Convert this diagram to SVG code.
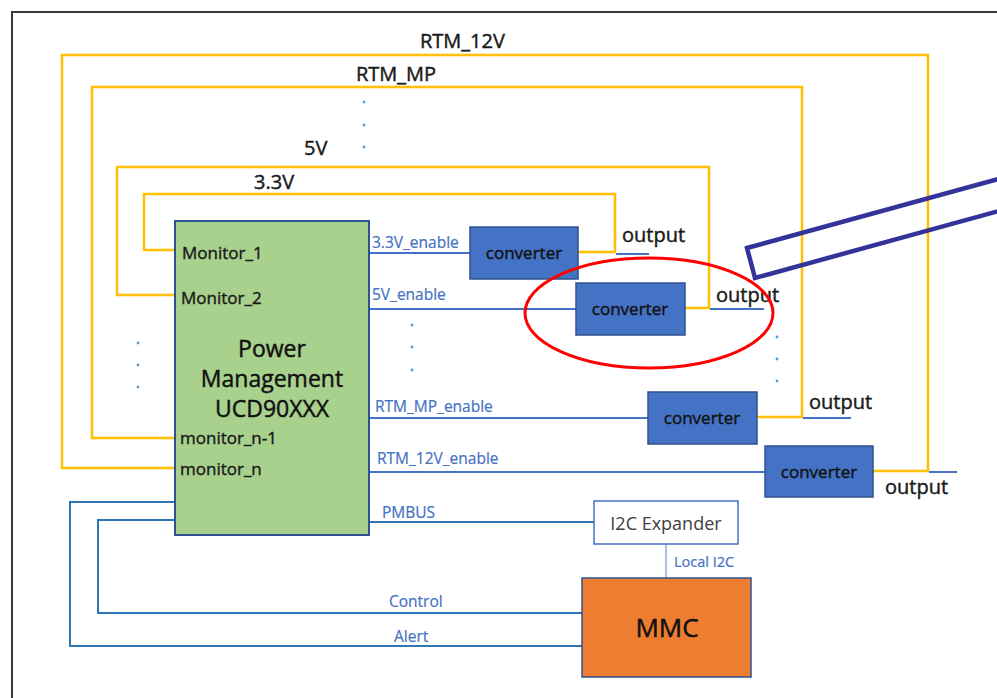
<svg xmlns="http://www.w3.org/2000/svg" width="997" height="698" viewBox="0 0 997 698">
  <style>
    .rail { fill: none; stroke: #FFC000; stroke-width: 2.5; stroke-linejoin: miter; }
    .en { fill: none; stroke: #4472C4; stroke-width: 2; }
    .bus { fill: none; stroke: #2E75B6; stroke-width: 2; }
    .lbl { font-family: "Open Sans", "Liberation Sans", sans-serif; font-size: 20px; fill: #1a1a1a; stroke: #1a1a1a; stroke-width: 0.45; }
    .sig { font-family: "Open Sans", "Liberation Sans", sans-serif; font-size: 15.5px; fill: #4472C4; stroke: #4472C4; stroke-width: 0.2; }
    .pin { font-family: "Open Sans", "Liberation Sans", sans-serif; font-size: 17px; fill: #1a1a1a; stroke: #1a1a1a; stroke-width: 0.4; }
    .conv rect { fill: #4472C4; stroke: #2F528F; stroke-width: 1.5; }
    .conv text { font-family: "Open Sans", "Liberation Sans", sans-serif; font-size: 17px; fill: #111; stroke: #111; stroke-width: 0.4; text-anchor: middle; }
    .dot { fill: #5B9BD5; }
  </style>

  <!-- outer frame -->
  <rect x="12" y="12" width="1000" height="700" fill="#ffffff" stroke="#3a3a3a" stroke-width="2"/>

  <!-- connectors -->
  <g id="connectors">
    <!-- supply rails fed back to the monitor inputs -->
    <polyline class="rail" points="175,468 62,468 62,55 928,55 928,471 873,471"/>
    <polyline class="rail" points="175,438 92,438 92,87 802,87 802,417 757,417"/>
    <polyline class="rail" points="175,295 117,295 117,167 709,167 709,308 685,308"/>
    <polyline class="rail" points="175,250 144,250 144,194 615,194 615,252 578,252"/>

    <!-- enable lines -->
    <line class="en" x1="369" y1="253" x2="470" y2="253"/>
    <line class="en" x1="369" y1="309" x2="576" y2="309"/>
    <line class="en" x1="369" y1="418" x2="648" y2="418"/>
    <line class="en" x1="369" y1="472" x2="765" y2="472"/>

    <!-- output stubs -->
    <line class="en" x1="616" y1="254" x2="649" y2="254"/>
    <line class="en" x1="710" y1="309" x2="764" y2="309"/>
    <line class="en" x1="803" y1="418" x2="851" y2="418"/>
    <line class="en" x1="929" y1="472" x2="957" y2="472"/>

    <!-- management buses -->
    <line class="bus" x1="369" y1="522" x2="594" y2="522"/>
    <polyline class="bus" points="175,502 70,502 70,646 582,646"/>
    <polyline class="bus" points="177,520 98,520 98,613 582,613"/>
    <line x1="666" y1="544" x2="666" y2="578" stroke="#8FAADC" stroke-width="1.5"/>
  </g>

  <!-- continuation dots -->
  <g id="dots">
    <circle class="dot" cx="364" cy="102" r="1.4"/>
    <circle class="dot" cx="364" cy="125" r="1.4"/>
    <circle class="dot" cx="364" cy="147" r="1.4"/>
    <circle class="dot" cx="138" cy="343" r="1.4"/>
    <circle class="dot" cx="138" cy="365" r="1.4"/>
    <circle class="dot" cx="138" cy="387" r="1.4"/>
    <circle class="dot" cx="412" cy="325" r="1.4"/>
    <circle class="dot" cx="412" cy="347" r="1.4"/>
    <circle class="dot" cx="412" cy="370" r="1.4"/>
    <circle class="dot" cx="777" cy="337" r="1.4"/>
    <circle class="dot" cx="777" cy="359" r="1.4"/>
    <circle class="dot" cx="777" cy="381" r="1.4"/>
  </g>

  <!-- rail labels -->
  <g id="rail-labels">
    <text class="lbl" x="420" y="48">RTM_12V</text>
    <text class="lbl" x="356" y="81">RTM_MP</text>
    <text class="lbl" x="304" y="155">5V</text>
    <text class="lbl" x="254" y="189">3.3V</text>
    <text class="lbl" x="622" y="242">output</text>
    <text class="lbl" x="716" y="302">output</text>
    <text class="lbl" x="809" y="409">output</text>
    <text class="lbl" x="885" y="494">output</text>
  </g>

  <!-- signal labels -->
  <g id="signal-labels">
    <text class="sig" x="372" y="248">3.3V_enable</text>
    <text class="sig" x="372" y="300">5V_enable</text>
    <text class="sig" x="375" y="412">RTM_MP_enable</text>
    <text class="sig" x="377" y="464">RTM_12V_enable</text>
    <text class="sig" x="382" y="518">PMBUS</text>
    <text class="sig" x="389" y="607">Control</text>
    <text class="sig" x="394" y="642">Alert</text>
    <text class="sig" x="674" y="567" style="font-size:14.5px">Local I2C</text>
  </g>

  <!-- power manager -->
  <g id="power-management">
    <rect x="175" y="221" width="194" height="314" fill="#A9D18E" stroke="#2F528F" stroke-width="2"/>
    <text class="pin" x="182" y="259">Monitor_1</text>
    <text class="pin" x="181" y="304">Monitor_2</text>
    <text class="pin" x="180" y="444">monitor_n-1</text>
    <text class="pin" x="180" y="475">monitor_n</text>
    <g font-family="Open Sans, Liberation Sans, sans-serif" font-size="23" fill="#111" stroke="#111" stroke-width="0.45" text-anchor="middle">
      <text x="272" y="357">Power</text>
      <text x="272" y="387">Management</text>
      <text x="272" y="417">UCD90XXX</text>
    </g>
  </g>

  <!-- converters -->
  <g id="converter-3v3" class="conv">
    <rect x="470" y="227" width="108" height="52"/>
    <text x="524" y="259">converter</text>
  </g>
  <g id="converter-5v" class="conv">
    <rect x="576" y="283" width="109" height="52"/>
    <text x="630" y="315">converter</text>
  </g>
  <g id="converter-rtm-mp" class="conv">
    <rect x="648" y="392" width="109" height="52"/>
    <text x="702" y="424">converter</text>
  </g>
  <g id="converter-rtm-12v" class="conv">
    <rect x="765" y="446" width="108" height="51"/>
    <text x="819" y="478">converter</text>
  </g>

  <!-- I2C expander -->
  <g id="i2c-expander">
    <rect x="594" y="501" width="144" height="43" fill="#ffffff" stroke="#4472C4" stroke-width="1.5"/>
    <text x="666" y="530" font-family="Open Sans, Liberation Sans, sans-serif" font-size="18" fill="#404040" text-anchor="middle">I2C Expander</text>
  </g>

  <!-- MMC -->
  <g id="mmc">
    <rect x="582" y="578" width="169" height="99" fill="#ED7D31" stroke="#2F528F" stroke-width="1.5"/>
    <text x="667" y="637" font-family="Open Sans, Liberation Sans, sans-serif" font-size="26" fill="#111" stroke="#111" stroke-width="0.5" text-anchor="middle">MMC</text>
  </g>

  <!-- highlight marks -->
  <g id="highlight">
    <ellipse cx="649" cy="313" rx="124" ry="55" fill="none" stroke="#FF0000" stroke-width="3"/>
    <polygon points="747,248 1100,151 1108,181 755,278" fill="none" stroke="#333399" stroke-width="4.5"/>
  </g>
</svg>
